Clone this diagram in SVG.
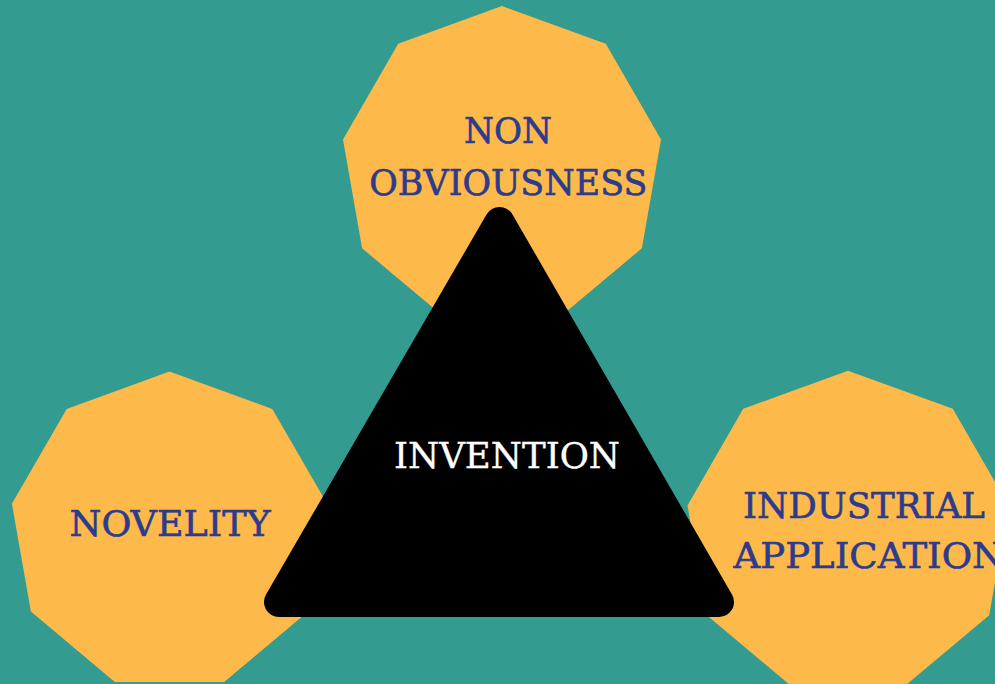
<svg xmlns="http://www.w3.org/2000/svg" width="995" height="684" viewBox="0 0 995 684">
<style>
.nona{fill:#fdb94a}
.lbl{font-family:"DejaVu Serif","Liberation Serif",serif;font-size:36px;fill:#2c3b8d;stroke:#2c3b8d;stroke-width:0.6px;text-anchor:middle}
.inv{font-family:"DejaVu Serif","Liberation Serif",serif;font-size:36px;fill:#ffffff;stroke:#ffffff;stroke-width:0.4px;text-anchor:middle}
</style>
<rect width="995" height="684" fill="#349b91"/>
<g id="non-obviousness">
<polygon class="nona" points="502,6 605.8,43.8 661,139.5 641.9,248.3 557.2,319.3 446.8,319.3 362.1,248.3 343,139.5 398.2,43.8"/>
</g>
<g id="novelity">
<polygon class="nona" points="169.5,371.5 272.3,408.9 327.1,503.7 308.1,611.5 224.2,681.9 114.8,681.9 30.9,611.5 11.9,503.7 66.7,408.9"/>
<text class="lbl" x="170" y="535.7" textLength="201" lengthAdjust="spacingAndGlyphs">NOVELITY</text>
</g>
<g id="industrial-application">
<polygon class="nona" points="848,370.7 952.8,408.8 1008.5,505.4 989.2,615.2 903.7,686.9 792.3,686.9 706.8,615.2 687.5,505.4 743.2,408.8"/>
<text class="lbl" x="864" y="518.3" textLength="242" lengthAdjust="spacingAndGlyphs">INDUSTRIAL</text>
<text class="lbl" x="869" y="568.3" textLength="271" lengthAdjust="spacingAndGlyphs">APPLICATION</text>
</g>
<g id="invention">
<polygon points="499.5,222 279,602 719,602" fill="#000000" stroke="#000000" stroke-width="30" stroke-linejoin="round"/>
<text class="inv" x="507" y="468.3" textLength="226" lengthAdjust="spacingAndGlyphs">INVENTION</text>
</g>
<g id="non-obviousness-label">
<text class="lbl" x="508" y="142.7" textLength="88" lengthAdjust="spacingAndGlyphs">NON</text>
<text class="lbl" x="508.3" y="195" textLength="278" lengthAdjust="spacingAndGlyphs">OBVIOUSNESS</text>
</g>
<g id="connectors"></g>
</svg>
